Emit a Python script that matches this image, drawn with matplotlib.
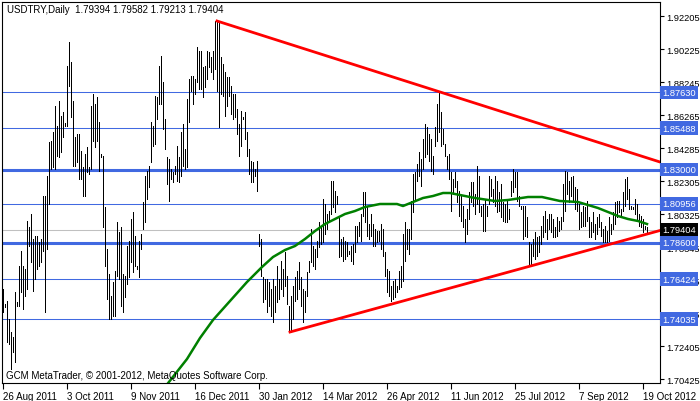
import matplotlib
matplotlib.use('Agg')
import matplotlib.pyplot as plt

plt.rcParams['font.family'] = ['Liberation Sans', 'DejaVu Sans']

# daily bars, high / low (USDTRY, Aug 2011 - Oct 2012)
highs = [
    1.7584, 1.7494, 1.7512, 1.7404, 1.7326, 1.7296, 1.7566, 1.7506, 1.7722, 1.7812,
    1.7722, 1.7704, 1.7992, 1.7956, 1.8034, 1.7884, 1.7902, 1.7902, 1.7866, 1.7884,
    1.8142, 1.8142, 1.8262, 1.8466, 1.8472, 1.8526, 1.8682, 1.8562, 1.8712, 1.8622,
    1.8646, 1.8580, 1.8922, 1.9066, 1.8946, 1.8712, 1.8496, 1.8514, 1.8514, 1.8412,
    1.8316, 1.8394, 1.8436, 1.8316, 1.8682, 1.8754,
    1.8694, 1.8736, 1.8586, 1.8394, 1.8382, 1.8076, 1.7824, 1.7674, 1.7542, 1.7626,
    1.7692, 1.7986, 1.7926, 1.7956, 1.7674, 1.7662, 1.7842, 1.7872, 1.8004, 1.8046,
    1.7902, 1.7722, 1.7872, 1.7914, 1.8106, 1.8262, 1.8292, 1.8322, 1.8586, 1.8562,
    1.8742, 1.8736, 1.8922, 1.8982, 1.8826, 1.8604, 1.8376, 1.8364, 1.8304, 1.8286,
    1.8322, 1.8442, 1.8376, 1.8526, 1.8574, 1.8424, 1.8724, 1.8844,
    1.8862, 1.8862, 1.8844, 1.9036, 1.9012, 1.9012, 1.8916, 1.8922, 1.9012, 1.9006,
    1.8976, 1.9012, 1.9192, 1.9192, 1.9192, 1.8976, 1.8934, 1.8886, 1.8856, 1.8856,
    1.8802, 1.8754, 1.8754, 1.8664, 1.8574, 1.8652, 1.8616, 1.8646, 1.8526, 1.8424,
    1.8352, 1.8346, 1.8304, 1.8352, 1.7914, 1.7884, 1.7656, 1.7644, 1.7644, 1.7626,
    1.7584, 1.7644, 1.7602, 1.7722, 1.7644, 1.7752, 1.7704,
    1.7806, 1.7662, 1.7482, 1.7542, 1.7602, 1.7656, 1.7692, 1.7746, 1.7656, 1.7584,
    1.7572, 1.7686, 1.7752, 1.7944, 1.7842, 1.7824, 1.7872, 1.7986, 1.7962, 1.8124,
    1.8094, 1.8034, 1.8052, 1.8232, 1.8232, 1.8172, 1.8142, 1.8022, 1.7884, 1.7896,
    1.7872, 1.7866, 1.7812, 1.7842, 1.7854, 1.7962, 1.7962, 1.7986, 1.8034, 1.8166,
    1.8166, 1.8076, 1.7974, 1.8034, 1.7974, 1.7944, 1.7932, 1.7932,
    1.7974, 1.7944, 1.7806, 1.7704, 1.7692, 1.7602, 1.7632, 1.7644, 1.7602, 1.7692,
    1.7722, 1.7914, 1.7986, 1.7944, 1.7944, 1.8112, 1.8274, 1.8286, 1.8334, 1.8406,
    1.8364, 1.8484, 1.8574, 1.8556, 1.8514, 1.8484, 1.8382, 1.8556, 1.8694, 1.8766,
    1.8646, 1.8544, 1.8454, 1.8382, 1.8394, 1.8286, 1.8244, 1.8286, 1.8232, 1.8172,
    1.8142, 1.8082, 1.8004, 1.8064, 1.8166, 1.8226, 1.8226,
    1.8154, 1.8322, 1.8262, 1.8082, 1.8094, 1.8124, 1.8082, 1.8262, 1.8244, 1.8184,
    1.8262, 1.8232, 1.8166, 1.8214, 1.8106, 1.8094, 1.8112, 1.8064, 1.8232, 1.8304,
    1.8286, 1.8286, 1.8142, 1.8082, 1.8082, 1.8082, 1.8016, 1.7866, 1.7854, 1.7884,
    1.7926, 1.7896, 1.7902, 1.7962, 1.8022, 1.8052, 1.8004, 1.8034, 1.8034, 1.8004,
    1.7956, 1.8016, 1.7992, 1.8016, 1.8214,
    1.8292, 1.8286, 1.8232, 1.8256, 1.8262, 1.8196, 1.8184, 1.8094, 1.8046, 1.8082,
    1.8076, 1.8112, 1.8016, 1.7986, 1.8046, 1.7974, 1.8016, 1.8034, 1.7986, 1.7944,
    1.7962, 1.7932, 1.8016, 1.7974, 1.8046, 1.8106, 1.8112, 1.8112, 1.8064, 1.8166,
    1.8244, 1.8256, 1.8184, 1.8082, 1.8076, 1.8124, 1.8094, 1.8034, 1.8022, 1.8004,
    1.7962, 1.79582,
]
lows = [
    1.7446, 1.7476, 1.7266, 1.7254, 1.7104, 1.7206, 1.7146, 1.7482, 1.7482, 1.7566,
    1.7464, 1.7542, 1.7584, 1.7842, 1.7746, 1.7572, 1.7644, 1.7704, 1.7722, 1.7746,
    1.7812, 1.7446, 1.7824, 1.8094, 1.8304, 1.8316, 1.8304, 1.8382, 1.8376, 1.8406,
    1.8496, 1.8562, 1.8562, 1.8802, 1.8616, 1.8322, 1.8322, 1.8346, 1.8244, 1.8244,
    1.8142, 1.8142, 1.8286, 1.8274, 1.8304, 1.8472,
    1.8436, 1.8472, 1.8292, 1.8376, 1.7956, 1.7722, 1.7524, 1.7404, 1.7404, 1.7422,
    1.7422, 1.7662, 1.7644, 1.7482, 1.7446, 1.7536, 1.7614, 1.7656, 1.7746, 1.7686,
    1.7722, 1.7704, 1.7656, 1.7824, 1.7944, 1.7986, 1.8124, 1.8196, 1.8346, 1.8442,
    1.8454, 1.8604, 1.8694, 1.8694, 1.8544, 1.8424, 1.8214, 1.8112, 1.8244, 1.8226,
    1.8274, 1.8232, 1.8226, 1.8262, 1.8322, 1.8304, 1.8316, 1.8586,
    1.8772, 1.8694, 1.8754, 1.8826, 1.8784, 1.8784, 1.8736, 1.8796, 1.8844, 1.8916,
    1.8886, 1.8844, 1.8904, 1.8772, 1.8556, 1.8754, 1.8742, 1.8622, 1.8682, 1.8742,
    1.8634, 1.8604, 1.8616, 1.8514, 1.8382, 1.8442, 1.8604, 1.8484, 1.8382, 1.8274,
    1.8226, 1.8226, 1.8262, 1.8172, 1.7842, 1.7662, 1.7506, 1.7524, 1.7446, 1.7482,
    1.7422, 1.7386, 1.7446, 1.7506, 1.7524, 1.7584, 1.7542,
    1.7602, 1.7494, 1.7332, 1.7326, 1.7404, 1.7512, 1.7524, 1.7584, 1.7482, 1.7386,
    1.7446, 1.7542, 1.7686, 1.7746, 1.7722, 1.7704, 1.7776, 1.7836, 1.7854, 1.7866,
    1.7914, 1.7944, 1.7986, 1.8034, 1.8076, 1.8046, 1.8094, 1.7776, 1.7782, 1.7752,
    1.7764, 1.7782, 1.7794, 1.7752, 1.7734, 1.7806, 1.7866, 1.7902, 1.7872, 1.8022,
    1.7986, 1.7902, 1.7884, 1.7902, 1.7842, 1.7842, 1.7866, 1.7872,
    1.7824, 1.7782, 1.7662, 1.7566, 1.7542, 1.7512, 1.7524, 1.7536, 1.7566, 1.7584,
    1.7596, 1.7632, 1.7752, 1.7824, 1.7794, 1.7884, 1.8046, 1.8124, 1.8232, 1.8262,
    1.8202, 1.8304, 1.8376, 1.8394, 1.8352, 1.8292, 1.8274, 1.8442, 1.8472, 1.8526,
    1.8442, 1.8454, 1.8382, 1.8304, 1.8244, 1.8052, 1.8154, 1.8196, 1.8106, 1.8022,
    1.7992, 1.7956, 1.7866, 1.7914, 1.8004, 1.8106, 1.8082,
    1.8034, 1.8094, 1.8046, 1.8022, 1.7932, 1.7932, 1.8022, 1.8094, 1.8142, 1.8106,
    1.8082, 1.8046, 1.8052, 1.8016, 1.7992, 1.7986, 1.7986, 1.8004, 1.8142, 1.8166,
    1.8196, 1.8112, 1.8082, 1.8064, 1.7884, 1.7902, 1.7896, 1.7734, 1.7722, 1.7782,
    1.7764, 1.7782, 1.7806, 1.7854, 1.7896, 1.7926, 1.7884, 1.7944, 1.7926, 1.7896,
    1.7896, 1.7902, 1.7932, 1.7944, 1.7992,
    1.8052, 1.8154, 1.8106, 1.8142, 1.8112, 1.8064, 1.8052, 1.7944, 1.7956, 1.7962,
    1.7962, 1.7992, 1.7896, 1.7896, 1.7926, 1.7884, 1.7914, 1.7956, 1.7902, 1.7866,
    1.7866, 1.7866, 1.7872, 1.7914, 1.7944, 1.7974, 1.8016, 1.8046, 1.8022, 1.8052,
    1.8082, 1.8124, 1.8064, 1.8064, 1.8064, 1.8034, 1.8004, 1.7962, 1.7956, 1.7926,
    1.7944, 1.79213,
]

# moving average (green) at bar positions
ma_idx = [81, 92, 98.5, 105, 113.5, 122, 129.5, 135, 141, 146, 151, 156, 161, 166,
          171, 176, 181, 188.5, 197, 200, 205, 210, 215, 220, 223.5, 228.5, 236,
          246, 252.5, 262.5, 269.5, 278.5, 287.5, 292.5, 297.5, 302.5, 307.5,
          312.5, 317.5, 322]
ma_val = [1.6996, 1.7164, 1.7290, 1.7398, 1.7512, 1.7626, 1.7716, 1.7776, 1.7818,
          1.7842, 1.7884, 1.7932, 1.7974, 1.8004, 1.8034, 1.8052, 1.8076, 1.8094,
          1.8094, 1.8082, 1.8106, 1.8130, 1.8142, 1.8160, 1.8160, 1.8148, 1.8130,
          1.8112, 1.8118, 1.8136, 1.8136, 1.8112, 1.8106, 1.8088, 1.8070, 1.8046,
          1.8022, 1.8004, 1.7992, 1.7974]

# trend lines (bar index, price)
upper_x = [107, 328.5]
upper_y = [1.9192, 1.8346]
lower_x = [143.5, 328.5]
lower_y = [1.7326, 1.7935]

levels = [1.87630, 1.85488, 1.83000, 1.80956, 1.78600, 1.76424, 1.74035]
thick_levels = [1.83000, 1.78600]
last_price = 1.79404

price_ticks = [1.92205, 1.90225, 1.88245, 1.86265, 1.84285, 1.82305, 1.80325,
               1.78345, 1.76365, 1.74385, 1.72405, 1.70425]
date_labels = ['26 Aug 2011', '3 Oct 2011', '9 Nov 2011', '16 Dec 2011', '30 Jan 2012',
               '14 Mar 2012', '26 Apr 2012', '11 Jun 2012', '25 Jul 2012', '7 Sep 2012',
               '19 Oct 2012']
date_pos = [0, 32, 64, 96, 128, 160, 192, 224, 256, 288, 320]

fig = plt.figure(figsize=(7, 4.02), dpi=100)
ax = fig.add_axes([2 / 700, 18 / 402, 658 / 700, 381 / 402])
ax.set_xlim(-0.5, 328.5)
ax.set_ylim(1.9324 - 0.0006 * 384, 1.9324 - 0.0006 * 3)

blue = '#4169E1'
for lv in levels:
    ax.axhline(lv, color=blue, lw=2.2 if lv in thick_levels else 0.75, zorder=1)
ax.axhline(last_price, color='#C0C0C0', lw=0.75, zorder=0.9)

ax.vlines(range(len(highs)), lows, highs, color='black', lw=0.72,
          antialiased=False, zorder=2)

ax.plot(ma_idx, ma_val, color='#008000', lw=1.8, zorder=3)
ax.plot(upper_x, upper_y, color='red', lw=2, zorder=4)
ax.plot(lower_x, lower_y, color='red', lw=2, zorder=4)

# axes, ticks
for sp in ax.spines.values():
    sp.set_color('black')
    sp.set_linewidth(0.8)
ax.yaxis.tick_right()
ax.set_yticks(price_ticks)
ax.set_yticklabels([f'{p:.5f}' for p in price_ticks])
ax.tick_params(axis='y', direction='out', length=3, width=0.8, pad=1.5, labelsize=6.7)
ax.set_xticks(date_pos)
ax.set_xticklabels(date_labels)
for lbl in ax.get_xticklabels():
    lbl.set_horizontalalignment('left')
ax.tick_params(axis='x', direction='out', length=4, width=0.8, pad=2, labelsize=7)

# price labels for the levels
ytr = ax.get_yaxis_transform()
for lv in levels:
    ax.text(1.003, lv, f'{lv:.5f}', transform=ytr, ha='left', va='center',
            fontsize=6.7, color='white', clip_on=False, zorder=6,
            bbox=dict(boxstyle='square,pad=0.25', fc=blue, ec='none'))
ax.text(1.003, last_price, f'{last_price:.5f}', transform=ytr, ha='left', va='center',
        fontsize=6.7, color='white', clip_on=False, zorder=7,
        bbox=dict(boxstyle='square,pad=0.25', fc='black', ec='none'))

ax.text(5 / 658, 0.981, 'USDTRY,Daily  1.79394 1.79582 1.79213 1.79404',
        transform=ax.transAxes, fontsize=7, va='center', ha='left')
ax.text(4 / 658, 0.02, 'GCM MetaTrader, © 2001-2012, MetaQuotes Software Corp.',
        transform=ax.transAxes, fontsize=7, va='center', ha='left', zorder=5)

fig.savefig('out.png', dpi=100, facecolor='white')
